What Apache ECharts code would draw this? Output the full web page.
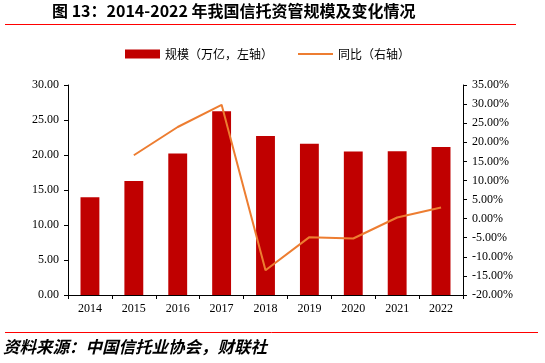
<!DOCTYPE html>
<html><head><meta charset="utf-8">
<script src="https://cdn.jsdelivr.net/npm/echarts@6/dist/echarts.min.js"></script>
<style>html,body{margin:0;padding:0;background:#fff}#c{width:545px;height:363px}</style>
</head><body><div id="c"></div>
<script>
const categories = ['2014','2015','2016','2017','2018','2019','2020','2021','2022'];
const scale = [13.98, 16.30, 20.22, 26.25, 22.70, 21.60, 20.49, 20.55, 21.14];
const yoy = [null, 16.6, 24.0, 29.8, -13.5, -4.85, -5.2, 0.3, 2.9];
const titleText = '图 13：2014-2022 年我国信托资管规模及变化情况';
const sourceText = '资料来源：中国信托业协会，财联社';

const chart = echarts.init(document.getElementById('c'), null, {renderer:'canvas'});
const serif = '"Liberation Serif","Times New Roman",serif';
const cjk = '"Noto Sans CJK SC","Noto Sans",sans-serif';
chart.setOption({
  animation:false,
  backgroundColor:'#fff',
  graphic:[
    {type:'text', left:52, top:3, style:{text:titleText, font:'bold 16px '+cjk, fill:'#000'}},
    {type:'line', shape:{x1:5,y1:24.5,x2:516,y2:24.5}, style:{stroke:'#FF0000', lineWidth:1}},
    {type:'line', shape:{x1:5,y1:332.5,x2:538,y2:332.5}, style:{stroke:'#FF0000', lineWidth:1}},
    {type:'text', left:3, top:338, style:{text:sourceText, font:'italic bold 16.5px '+cjk, fill:'#000'}}
  ],
  legend:{
    top:43, left:120, itemGap:24, itemWidth:35, itemHeight:9,
    textStyle:{fontFamily:cjk, fontSize:12, color:'#000'},
    data:[{name:'规模（万亿，左轴）', icon:'rect'}, {name:'同比（右轴）', itemStyle:{opacity:0}}]
  },
  grid:{left:68, right:82, top:85, bottom:68},
  xAxis:{
    type:'category', data:categories, boundaryGap:true,
    axisLine:{lineStyle:{color:'#000'}},
    axisTick:{show:true, length:4, lineStyle:{color:'#000'}},
    axisLabel:{fontFamily:serif, fontSize:12, color:'#000', margin:8}
  },
  yAxis:[
    {type:'value', min:0, max:30, interval:5,
     axisLine:{show:true, lineStyle:{color:'#000'}},
     axisTick:{show:true, length:4, lineStyle:{color:'#000'}},
     splitLine:{show:false},
     axisLabel:{fontFamily:serif, fontSize:12, color:'#000', margin:9, formatter:v=>v.toFixed(2)}},
    {type:'value', min:-20, max:35, interval:5, position:'right',
     axisLine:{show:true, lineStyle:{color:'#000'}},
     axisTick:{show:true, length:4, lineStyle:{color:'#000'}},
     splitLine:{show:false},
     axisLabel:{fontFamily:serif, fontSize:12, color:'#000', margin:9, formatter:v=>v.toFixed(2)+'%'}}
  ],
  series:[
    {name:'规模（万亿，左轴）', type:'bar', data:scale, barWidth:'43%', itemStyle:{color:'#C00000'}},
    {name:'同比（右轴）', type:'line', yAxisIndex:1, data:yoy, symbol:'none', connectNulls:false,
     lineStyle:{color:'#ED7D31', width:2}, itemStyle:{color:'#ED7D31'}}
  ]
});
</script></body></html>
